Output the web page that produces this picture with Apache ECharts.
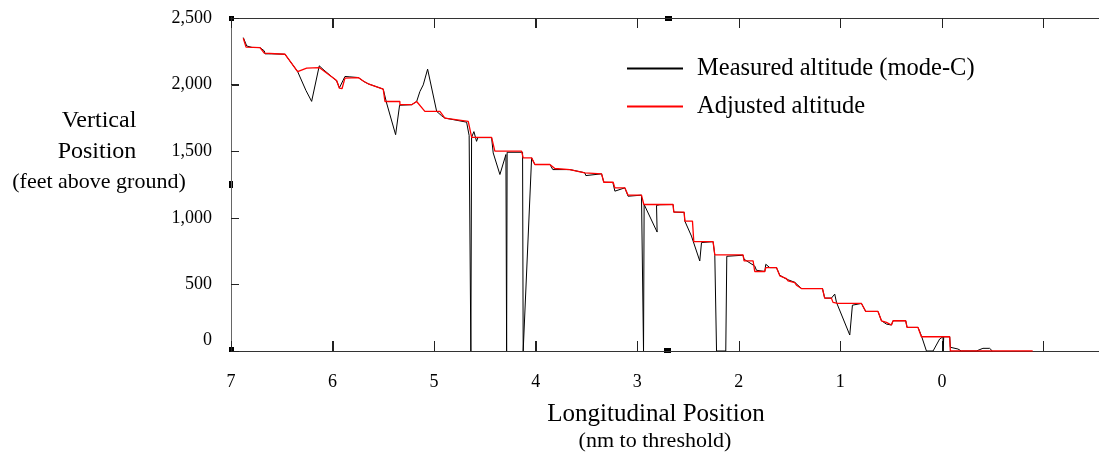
<!DOCTYPE html>
<html>
<head>
<meta charset="utf-8">
<script src="https://cdn.jsdelivr.net/npm/echarts@6/dist/echarts.min.js"></script>
<style>
html,body{margin:0;padding:0;background:#fff}
#chart{width:1099px;height:457px}
</style>
</head>
<body>
<div id="chart"></div>
<script>
// distance to threshold (nm) and altitude (ft)
var measuredNm = [6.879,6.845,6.793,6.715,6.672,6.665,6.599,6.469,6.344,6.262,6.206,6.131,6.094,5.960,5.932,5.917,
  5.878,5.829,5.747,5.691,5.649,5.501,5.468,5.379,5.340,5.221,5.172,5.140,5.107,5.064,5.048,4.975,4.926,4.894,
  4.680,4.655,4.641,4.638,4.631,4.608,4.582,4.569,4.434,4.418,4.352,4.293,4.286,4.281,4.129,4.123,4.040,4.008,
  3.860,3.831,3.663,3.516,3.506,3.351,3.329,3.240,3.220,3.122,3.090,2.958,2.942,2.938,2.932,2.804,2.810,2.777,
  2.647,2.640,2.538,2.531,2.466,2.384,2.367,2.253,2.236,2.219,2.128,2.118,1.958,1.948,1.843,1.826,1.744,1.734,
  1.695,1.629,1.596,1.530,1.449,1.383,1.176,1.154,1.088,1.055,1.038,1.022,0.907,0.881,0.792,0.750,0.629,0.595,
  0.546,0.497,0.481,0.356,0.343,0.235,0.202,0.152,0.087,0.022,-0.011,-0.013,-0.018,-0.077,-0.083,-0.158,-0.192,
  -0.339,-0.404,-0.470,-0.497];
var measuredFt = [2353,2290,2279,2278,2253,2231,2231,2228,2098,1956,1874,2141,2115,2028,1976,1986,
  2061,2058,2053,2023,2006,1966,1862,1624,1845,1849,1873,1948,1998,2116,2123,1799,1766,1749,
  1718,1617,1609,0,1604,1647,1574,1602,1602,1487,1325,1475,0,1492,1492,0,1450,1400,
  1400,1362,1362,1338,1317,1330,1267,1265,1200,1225,1162,1170,1168,0,1100,893,1093,1098,
  1100,1043,1040,975,863,676,814,821,719,0,0,711,719,689,638,606,597,651,
  626,626,569,539,516,469,469,397,397,427,365,352,120,344,357,297,297,227,
  202,195,227,227,177,177,115,0,0,90,107,0,107,107,28,15,0,
  0,20,20,0];

var adjustedNm = [6.879,6.852,6.715,6.672,6.469,6.344,6.255,6.131,5.960,5.934,5.907,5.878,5.747,5.691,5.649,5.501,
  5.484,5.337,5.337,5.221,5.172,5.091,4.943,4.894,4.664,4.630,4.434,4.402,4.139,4.123,4.040,4.008,3.860,3.811,
  3.663,3.646,3.516,3.506,3.351,3.329,3.237,3.220,3.122,3.090,2.958,2.935,2.647,2.640,2.538,2.531,2.456,2.443,
  2.253,2.236,1.958,1.948,1.859,1.843,1.744,1.734,1.629,1.596,1.530,1.515,1.449,1.432,1.383,1.176,1.154,1.088,
  1.072,1.023,0.792,0.750,0.629,0.595,0.546,0.497,0.481,0.356,0.343,0.235,0.202,-0.077,-0.083,-0.894];
var adjustedFt = [2348,2281,2278,2236,2228,2098,2124,2128,2031,1974,1969,2049,2053,2023,2006,1966,
  1873,1873,1849,1849,1873,1799,1799,1749,1724,1604,1604,1500,1500,1450,1450,1400,1400,1370,
  1362,1350,1338,1330,1330,1267,1267,1225,1225,1170,1170,1100,1100,1043,1043,975,975,821,
  821,721,721,676,676,597,597,626,626,564,544,526,514,494,469,469,397,397,
  365,357,357,297,297,227,215,195,227,227,177,177,107,107,0,0];

var xTicks = [7,6,5,4,3,2,1,0];
var xTickMarks = [6,5,4,3,2,1,0,-1];
var yTicks = [0,500,1000,1500,2000,2500];
var seriesNames = ['Measured altitude (mode-C)','Adjusted altitude'];

function zip(a,b){
  var out=[];
  for(var i=0;i<a.length;i++){ out.push([a[i],b[i]]); }
  return out;
}

var serif = '"Liberation Serif", "Times New Roman", serif';
var myChart = echarts.init(document.getElementById('chart'));

var baseGraphic = [
  {type:'text',style:{text:'Vertical',x:99,y:121,textAlign:'center',textVerticalAlign:'middle',font:'24px '+serif,fill:'#000'}},
  {type:'text',style:{text:'Position',x:97,y:152,textAlign:'center',textVerticalAlign:'middle',font:'24px '+serif,fill:'#000'}},
  {type:'text',style:{text:'(feet above ground)',x:99,y:182,textAlign:'center',textVerticalAlign:'middle',font:'22px '+serif,fill:'#000'}},
  {type:'text',style:{text:'Longitudinal Position',x:656,y:414,textAlign:'center',textVerticalAlign:'middle',font:'25px '+serif,fill:'#000'}},
  {type:'text',style:{text:'(nm to threshold)',x:655,y:441,textAlign:'center',textVerticalAlign:'middle',font:'22px '+serif,fill:'#000'}},
  // selection handles on the frame
  {type:'rect',shape:{x:229,y:16,width:5,height:5},style:{fill:'#000'}},
  {type:'rect',shape:{x:229,y:181,width:4,height:7},style:{fill:'#000'}},
  {type:'rect',shape:{x:229,y:347,width:5,height:5},style:{fill:'#000'}},
  {type:'rect',shape:{x:665,y:16,width:7,height:5},style:{fill:'#000'}},
  {type:'rect',shape:{x:664,y:348,width:7,height:5},style:{fill:'#000'}}
];

var option = {
  animation:false,
  // plot runs on past the right edge of the page, to -2 nm
  grid:{left:231,top:18,width:914,height:333,outerBoundsMode:'none'},
  legend:{
    data:seriesNames,
    orient:'vertical',
    left:627,top:56,padding:0,itemGap:13,
    icon:'rect',itemWidth:56,itemHeight:2,
    textStyle:{fontFamily:serif,fontSize:24.5,lineHeight:24,color:'#000',padding:[0,0,0,9]}
  },
  xAxis:[{
    type:'value',inverse:true,min:-2,max:7,interval:1,position:'bottom',
    axisLine:{show:true,onZero:false,lineStyle:{color:'#333'}},
    axisTick:{show:true,inside:true,length:10,lineStyle:{color:'#222',width:1}},
    splitLine:{show:false},
    axisLabel:{
      fontFamily:serif,fontSize:18,color:'#000',margin:22,
      formatter:function(v){ return xTicks.indexOf(v)>=0 ? String(v) : ''; }
    }
  },{
    type:'value',inverse:true,min:-2,max:7,interval:1,position:'top',
    axisLine:{show:true,onZero:false,lineStyle:{color:'#333'}},
    axisTick:{show:true,inside:true,length:10,lineStyle:{color:'#222',width:1}},
    splitLine:{show:false},
    axisLabel:{show:false}
  }],
  yAxis:{
    type:'value',min:0,max:2500,interval:500,
    axisLine:{show:true,onZero:false,lineStyle:{color:'#666'}},
    axisTick:{show:true,inside:true,length:8,lineStyle:{color:'#222',width:1}},
    splitLine:{show:false},
    axisLabel:{
      fontFamily:serif,fontSize:18,color:'#000',margin:19,
      formatter:function(v){
        if(yTicks.indexOf(v)<0) return '';
        return v===0 ? '{z|0}' : v.toLocaleString('en-US');
      },
      rich:{z:{fontFamily:serif,fontSize:18,color:'#000',padding:[0,0,22,0]}}
    }
  },
  series:[{
    name:seriesNames[0],type:'line',showSymbol:false,symbol:'none',
    color:'#000',lineStyle:{color:'#000',width:1},
    data:zip(measuredNm,measuredFt)
  },{
    name:seriesNames[1],type:'line',showSymbol:false,symbol:'none',
    color:'#ff0000',lineStyle:{color:'#ff0000',width:1.3},
    data:zip(adjustedNm,adjustedFt)
  }],
  graphic:baseGraphic
};

myChart.setOption(option);

// inward tick marks on the frame, placed through the chart's own scales
function frameTicks(){
  var top = myChart.convertToPixel({yAxisIndex:0}, 2500);
  var bottom = myChart.convertToPixel({yAxisIndex:0}, 0);
  var left = myChart.convertToPixel({xAxisIndex:0}, 7);
  var marks = [];
  xTickMarks.forEach(function(v){
    var x = Math.round(myChart.convertToPixel({xAxisIndex:0}, v)) + 0.5;
    marks.push({type:'line',silent:true,shape:{x1:x,y1:top,x2:x,y2:top+10},style:{stroke:'#222',lineWidth:1}});
    marks.push({type:'line',silent:true,shape:{x1:x,y1:bottom,x2:x,y2:bottom-10},style:{stroke:'#222',lineWidth:1}});
  });
  yTicks.slice(1,-1).forEach(function(v){
    var y = Math.round(myChart.convertToPixel({yAxisIndex:0}, v)) + 0.5;
    marks.push({type:'line',silent:true,shape:{x1:left,y1:y,x2:left+8,y2:y},style:{stroke:'#222',lineWidth:1}});
  });
  return marks;
}
myChart.setOption({graphic:baseGraphic.concat(frameTicks())});

window.addEventListener('resize',function(){ myChart.resize(); });
</script>
</body>
</html>
